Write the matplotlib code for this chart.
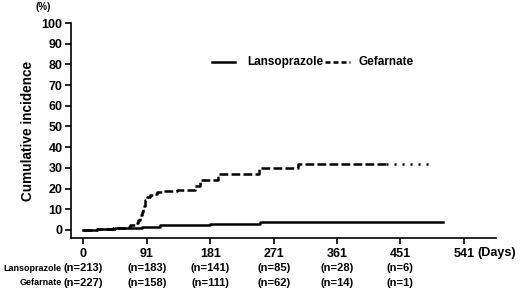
import numpy as np
import matplotlib
matplotlib.use('Agg')
import matplotlib.pyplot as plt

plt.rcParams['font.family'] = ['Liberation Sans', 'DejaVu Sans']
plt.rcParams['font.weight'] = 'bold'

# Kaplan-Meier style step data
lanso_days = [0, 20, 45, 84, 110, 181, 252, 511]
lanso_inc = [0, 0.3, 0.7, 1.5, 2.3, 3.0, 3.8, 3.8]

gef_days = [0, 20, 43, 60, 67, 74, 78, 81, 84, 86, 88, 91, 95, 100, 105, 112, 119,
            134, 159, 166, 192, 250, 306, 494]
gef_inc = [0, 0.4, 1.0, 1.6, 2.4, 3.5, 5.0, 7.0, 8.7, 11.5, 14.5, 15.8, 17.0, 17.6,
           18.2, 18.6, 19.0, 19.4, 21.0, 24.0, 27.0, 30.0, 32.0, 32.0]

xticks = [0, 91, 181, 271, 361, 451, 541]
lanso_n = ['(n=213)', '(n=183)', '(n=141)', '(n=85)', '(n=28)', '(n=6)']
gef_n = ['(n=227)', '(n=158)', '(n=111)', '(n=62)', '(n=14)', '(n=1)']

fig = plt.figure(figsize=(5.2, 2.93), dpi=100)
ax = fig.add_axes([0.1365, 0.1877, 0.954 - 0.1365, 0.9215 - 0.1877])

ax.plot(lanso_days, lanso_inc, drawstyle='steps-post', color='black', lw=1.8)

# gefarnate: dashed, tail after last events drawn dotted
split = 430
gd = np.array(gef_days, dtype=float)
gi = np.array(gef_inc, dtype=float)
head_d = np.append(gd[gd < split], split)
head_i = np.append(gi[gd < split], gi[gd < split][-1])
ax.plot(head_d, head_i, drawstyle='steps-post', color='black', lw=1.8,
        linestyle=(0, (3.5, 1.3)))
ax.plot([split, gd[-1]], [gi[-1], gi[-1]], color='black', lw=1.8,
        linestyle=(0, (0.8, 2.4)))

ax.set_xlim(-17, 587)
ax.set_ylim(-3.9, 100)
ax.set_yticks(range(0, 101, 10))
ax.set_xticks(xticks)
ax.set_xticklabels([str(t) for t in xticks])
ax.tick_params(axis='both', labelsize=9, width=1.2, length=4, pad=2)
ax.tick_params(axis='x', pad=3.5)
for s in ['top', 'right']:
    ax.spines[s].set_visible(False)
for s in ['left', 'bottom']:
    ax.spines[s].set_linewidth(1.2)

ax.set_ylabel('Cumulative incidence', fontsize=9.8, fontweight='bold', labelpad=5)
ax.text(-0.066, 1.074, '(%)', transform=ax.transAxes, fontsize=7, ha='center', va='center')

# legend drawn manually
ax.plot([183, 216], [81, 81], color='black', lw=1.8, clip_on=False)
ax.text(234, 81, 'Lansoprazole', fontsize=8.5, va='center')
ax.plot([344, 380], [81, 81], color='black', lw=1.8, linestyle=(0, (2, 1.2)), clip_on=False)
ax.text(392, 81, 'Gefarnate', fontsize=8.5, va='center')

# number at risk
trans = ax.get_xaxis_transform()
for t, a, b in zip(xticks, lanso_n, gef_n):
    ax.text(t, -0.14, a, transform=trans, ha='center', va='center', fontsize=8)
    ax.text(t, -0.209, b, transform=trans, ha='center', va='center', fontsize=8)
ax.text(-30, -0.14, 'Lansoprazole', transform=trans, ha='right', va='center', fontsize=6.5)
ax.text(-30, -0.209, 'Gefarnate', transform=trans, ha='right', va='center', fontsize=6.5)
ax.text(560, -0.07, '(Days)', transform=trans, ha='left', va='center', fontsize=9)

fig.savefig('out.png', dpi=100)
